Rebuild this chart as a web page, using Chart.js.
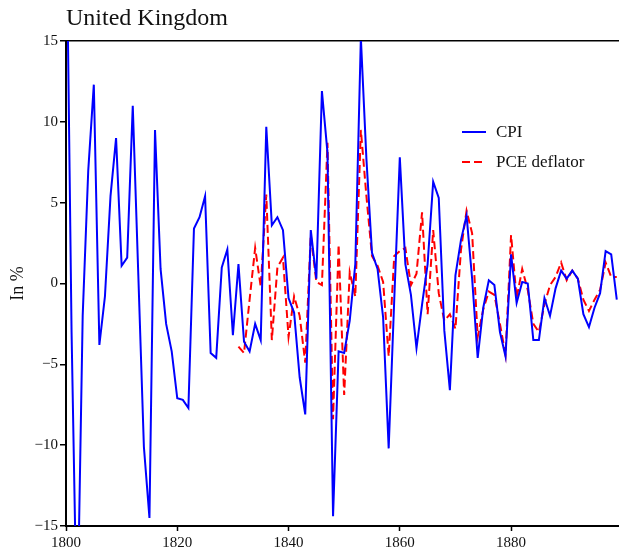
<!DOCTYPE html>
<html>
<head>
<meta charset="utf-8">
<script src="https://cdn.jsdelivr.net/npm/chart.js@4"></script>
<style>
  html, body { margin: 0; padding: 0; background: #fff; }
  canvas { display: block; }
</style>
</head>
<body>
<canvas id="myChart" width="619" height="556"></canvas>
<script>
// Years covered by each series
const cpiYears = [];
for (let y = 1800; y <= 1899; y++) cpiYears.push(y);
const pceYears = [];
for (let y = 1831; y <= 1899; y++) pceYears.push(y);

// CPI inflation, %, 1800-1899
const cpiValues = [
  25, -3, -22, -2, 7, 12.3, -3.8, -0.8, 5.4, 9.0,
  1.1, 1.6, 11.0, 0.5, -10.1, -14.5, 9.5, 0.9, -2.5, -4.2,
  -7.1, -7.2, -7.7, 3.4, 4.1, 5.4, -4.3, -4.6, 1.0, 2.1,
  -3.2, 1.2, -3.6, -4.2, -2.5, -3.5, 9.7, 3.6, 4.1, 3.3,
  -0.9, -1.8, -5.8, -8.1, 3.3, 0.3, 11.9, 8.1, -14.4, -4.2,
  -4.3, -2.3, 1.2, 15.2, 7.7, 1.9, 0.9, -2.1, -10.2, -1.0,
  7.8, 1.2, -0.7, -4.0, -1.3, 1.2, 6.3, 5.3, -2.9, -6.6,
  0.5, 2.7, 4.2, 0.3, -4.6, -1.5, 0.2, -0.1, -3.0, -4.5,
  1.8, -1.2, 0.1, 0.0, -3.5, -3.5, -0.9, -2.0, -0.3, 0.8,
  0.3, 0.8, 0.3, -1.9, -2.7, -1.5, -0.6, 2.0, 1.8, -1.0
];

// PCE deflator inflation, %, 1831-1899
const pceValues = [
  -3.9, -4.3, -1.0, 2.2, -0.2, 5.5, -3.5, 1.0, 1.6,
  -3.3, -0.8, -2.0, -4.9, 3.0, 0.1, -0.1, 8.7, -8.4, 2.4,
  -6.9, 0.7, -0.8, 9.5, 5.4, 1.7, 1.1, 0.1, -4.5, 1.7,
  2.0, 2.2, -0.1, 0.6, 4.4, -1.9, 3.3, -0.6, -2.3, -1.9,
  -2.8, 2.1, 4.5, 3.1, -3.3, -1.6, -0.5, -0.7, -2.5, -4.4,
  3.0, -0.9, 0.9, -0.4, -2.5, -3.0, -1.3, -0.1, 0.4, 1.3,
  0.2, 0.8, 0.3, -1.0, -1.7, -1.0, -0.4, 1.3, 0.4, 0.4
];

const xTicks = [1800, 1820, 1840, 1860, 1880];
const yTicks = [-15, -10, -5, 0, 5, 10, 15];

const serif = '"Liberation Serif", "DejaVu Serif", serif';

// Legend drawn inside the plot, top right
const innerLegend = {
  id: 'innerLegend',
  afterDraw(c) {
    const ctx = c.ctx;
    ctx.save();
    ctx.font = '17px ' + serif;
    ctx.textBaseline = 'middle';
    c.data.datasets.forEach((ds, i) => {
      const y = 132 + i * 30;
      ctx.strokeStyle = ds.borderColor;
      ctx.lineWidth = 2;
      ctx.setLineDash(ds.borderDash || []);
      ctx.beginPath();
      ctx.moveTo(462, y);
      ctx.lineTo(486, y);
      ctx.stroke();
      ctx.setLineDash([]);
      ctx.fillStyle = '#111';
      ctx.fillText(ds.label, 496, y + 1);
    });
    ctx.restore();
  }
};

const ctx = document.getElementById('myChart').getContext('2d');
const chart = new Chart(ctx, {
  type: 'line',
  data: {
    datasets: [{
      label: 'CPI',
      data: cpiYears.map((yr, i) => ({ x: yr, y: cpiValues[i] })),
      borderColor: '#0000ff',
      borderWidth: 2,
      pointRadius: 0,
      tension: 0,
    }, {
      label: 'PCE deflator',
      data: pceYears.map((yr, i) => ({ x: yr, y: pceValues[i] })),
      borderColor: '#ff0000',
      borderWidth: 2,
      borderDash: [8, 4],
      pointRadius: 0,
      tension: 0,
    }],
  },
  options: {
    responsive: false,
    animation: false,
    devicePixelRatio: 1,
    layout: { padding: 0 },
    plugins: {
      legend: { display: false },
      tooltip: { enabled: false },
      title: {
        display: true,
        text: 'United Kingdom',
        align: 'start',
        fullSize: false,
        color: '#111',
        font: { family: serif, size: 24, weight: 'normal', lineHeight: 1.2 },
        padding: { top: 4, bottom: 8.2 },
      },
    },
    scales: {
      x: {
        type: 'linear',
        min: 1800,
        max: 1899.4,
        afterBuildTicks: axis => { axis.ticks = xTicks.map(v => ({ value: v })); },
        afterFit: scale => { scale.height = 30; },
        grid: { drawOnChartArea: false, tickLength: 5, tickColor: '#000', tickWidth: 1.5 },
        border: { color: '#000', width: 2 },
        ticks: {
          color: '#111',
          padding: 3,
          maxRotation: 0,
          font: { family: serif, size: 15 },
          callback: v => String(v),
        },
      },
      y: {
        min: -15,
        max: 15,
        afterBuildTicks: axis => { axis.ticks = yTicks.map(v => ({ value: v })); },
        afterFit: scale => { scale.width = 66; },
        grid: {
          // only the top line is shown, acting as the upper frame
          color: c => (c.tick && c.tick.value === 15 ? '#000' : 'rgba(0,0,0,0)'),
          lineWidth: 1.5,
          tickLength: 6,
          tickColor: '#000',
          tickWidth: 1.5,
        },
        border: { color: '#000', width: 2 },
        ticks: {
          color: '#111',
          padding: 2,
          font: { family: serif, size: 15 },
          callback: v => (v < 0 ? '\u2212' + Math.abs(v) : String(v)),
        },
        title: {
          display: true,
          text: 'In %',
          color: '#111',
          font: { family: serif, size: 18 },
          padding: { top: 7, bottom: 0 },
        },
      },
    },
  },
  plugins: [innerLegend],
});
</script>
</body>
</html>
